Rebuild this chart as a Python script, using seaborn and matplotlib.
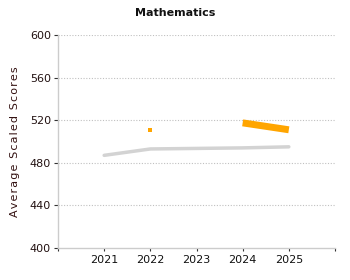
import matplotlib
matplotlib.use("Agg")
import matplotlib.pyplot as plt
import seaborn as sns
import pandas as pd

years = [2021, 2022, 2023, 2024, 2025]
national = [487, 493, 493.5, 494, 495]
state_years = [2024, 2025]
state = [517.5, 511]
point_years = [2022]
point_vals = [511]
yticks = [400, 440, 480, 520, 560, 600]

sns.set_theme(style="white")
plt.rcParams['font.family'] = ['DejaVu Sans']

fig = plt.figure(figsize=(3.5, 2.8), dpi=100)
ax = fig.add_axes([58/350, 1-248/280, (335-58)/350, (248-35)/280])

df1 = pd.DataFrame({"year": years, "score": national})
df2 = pd.DataFrame({"year": state_years, "score": state})
df3 = pd.DataFrame({"year": point_years, "score": point_vals})

sns.lineplot(data=df1, x="year", y="score", ax=ax, color="#d3d3d3", linewidth=2.5)
sns.lineplot(data=df2, x="year", y="score", ax=ax, color="#ffa500", linewidth=5, solid_capstyle="butt")
sns.scatterplot(data=df3, x="year", y="score", ax=ax, color="#ffa500", marker="s", s=12, linewidth=0)

ax.set_xlim(2020, 2026)
ax.set_ylim(400, 600)
ax.set_xticks([2020] + years + [2026])
ax.set_xticklabels([""] + [str(y) for y in years] + [""], fontsize=8, color="#111111")
ax.set_yticks(yticks)
ax.set_yticklabels([str(v) for v in yticks], fontsize=8, color="#221111")
ax.tick_params(axis="both", bottom=True, left=True, length=3, width=0.8, color="#333333", pad=2)
ax.tick_params(axis="x", length=2, pad=3)
for v in yticks[1:]:
    ax.axhline(v, color="#c0c0c0", linestyle=(0, (1, 1.5)), linewidth=0.8, zorder=0)
for s in ["top", "right"]:
    ax.spines[s].set_visible(False)
for s in ["left", "bottom"]:
    ax.spines[s].set_color("#cccccc")
    ax.spines[s].set_linewidth(1)
ax.set_xlabel("")
label = "\u200a".join("Average Scaled Scores")
ax.set_ylabel(label, fontsize=8, color="#331111", labelpad=7)
fig.text(0.5, 1-13/280, "Mathematics", ha="center", va="center", fontsize=8, fontweight="bold", color="#111111")

fig.savefig("out.png", dpi=100)
